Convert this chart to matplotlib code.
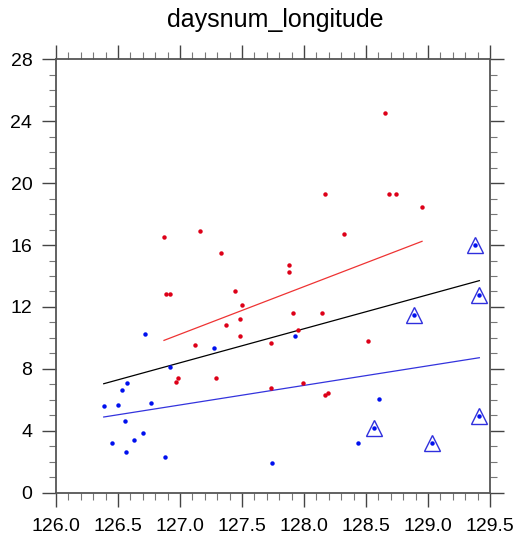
import matplotlib
matplotlib.use("Agg")
import matplotlib.pyplot as plt
from matplotlib.ticker import MultipleLocator

# red group
red_lon = [126.871, 127.159, 127.333, 128.653, 128.169, 128.688, 128.745, 128.952,
           128.320, 127.879, 127.879, 126.890, 126.922, 127.444, 127.497, 127.484,
           127.374, 127.484, 127.124, 127.737, 126.986, 126.968, 127.288, 127.737,
           127.911, 128.148, 127.954, 128.516, 127.995, 128.169, 128.196]
red_days = [16.55, 16.93, 15.46, 24.53, 19.32, 19.30, 19.32, 18.44,
            16.69, 14.73, 14.24, 12.86, 12.86, 13.01, 12.15, 11.20,
            10.85, 10.14, 9.52, 9.69, 7.41, 7.17, 7.41, 6.74,
            11.59, 11.61, 10.51, 9.82, 7.11, 6.31, 6.44]

# blue group
blue_lon = [126.720, 127.277, 126.922, 126.573, 126.532, 126.385, 126.497, 126.763,
            126.559, 126.704, 126.449, 126.626, 126.567, 126.882, 127.745, 127.927,
            128.605, 128.435, 129.379, 128.890, 129.409, 128.565, 129.030, 129.411]
blue_days = [10.27, 9.35, 8.10, 7.07, 6.61, 5.60, 5.67, 5.77,
             4.61, 3.84, 3.21, 3.38, 2.63, 2.33, 1.92, 10.14,
             6.07, 3.19, 16.0, 11.46, 12.75, 4.16, 3.21, 4.93]

# blue points marked with a triangle
tri_lon = [129.379, 128.890, 129.409, 128.565, 129.030, 129.411]
tri_days = [16.0, 11.46, 12.75, 4.16, 3.21, 4.93]

# fitted lines, end points
red_fit_x = [126.871, 128.952]
red_fit_y = [9.84, 16.24]
all_fit_x = [126.385, 129.414]
all_fit_y = [7.04, 13.70]
blue_fit_x = [126.385, 129.414]
blue_fit_y = [4.89, 8.72]

plt.rcParams['font.family'] = ['Liberation Sans', 'DejaVu Sans']

fig = plt.figure(figsize=(5.16, 5.38), dpi=100)
ax = fig.add_axes([0.1085, 0.0842, 0.8411, 0.8056])

ax.plot(red_fit_x, red_fit_y, color='#ee3333', lw=0.9)
ax.plot(all_fit_x, all_fit_y, color='black', lw=0.9)
ax.plot(blue_fit_x, blue_fit_y, color='#3333dd', lw=0.9)

ax.plot(red_lon, red_days, 'o', color='#dd0018', ms=3.2, mec='none')
ax.plot(blue_lon, blue_days, 'o', color='#0010ee', ms=3.2, mec='none')
ax.plot(tri_lon, tri_days, '^', ms=11, mfc='none', mec='#2f2fdd', mew=1.0)

ax.set_xlim(126.0, 129.5)
ax.set_ylim(0, 28)
ax.xaxis.set_major_locator(MultipleLocator(0.5))
ax.xaxis.set_minor_locator(MultipleLocator(0.1))
ax.yaxis.set_major_locator(MultipleLocator(4))
ax.yaxis.set_minor_locator(MultipleLocator(1))
ax.xaxis.set_major_formatter(plt.FormatStrFormatter('%.1f'))

ax.tick_params(which='major', direction='out', length=10, width=1.0,
               color='#444444', labelsize=14, top=True, right=True)
ax.tick_params(axis='x', which='major', pad=8.5)
ax.tick_params(axis='y', which='major', pad=7)
ax.tick_params(which='minor', direction='out', length=5, width=0.8,
               color='#777777', top=True, right=True)
for sp in ax.spines.values():
    sp.set_linewidth(1.3)
    sp.set_color('#555555')

fig.text(0.533, 0.962, 'daysnum_longitude', ha='center', va='center', fontsize=18)

fig.savefig('out.png', dpi=100)
